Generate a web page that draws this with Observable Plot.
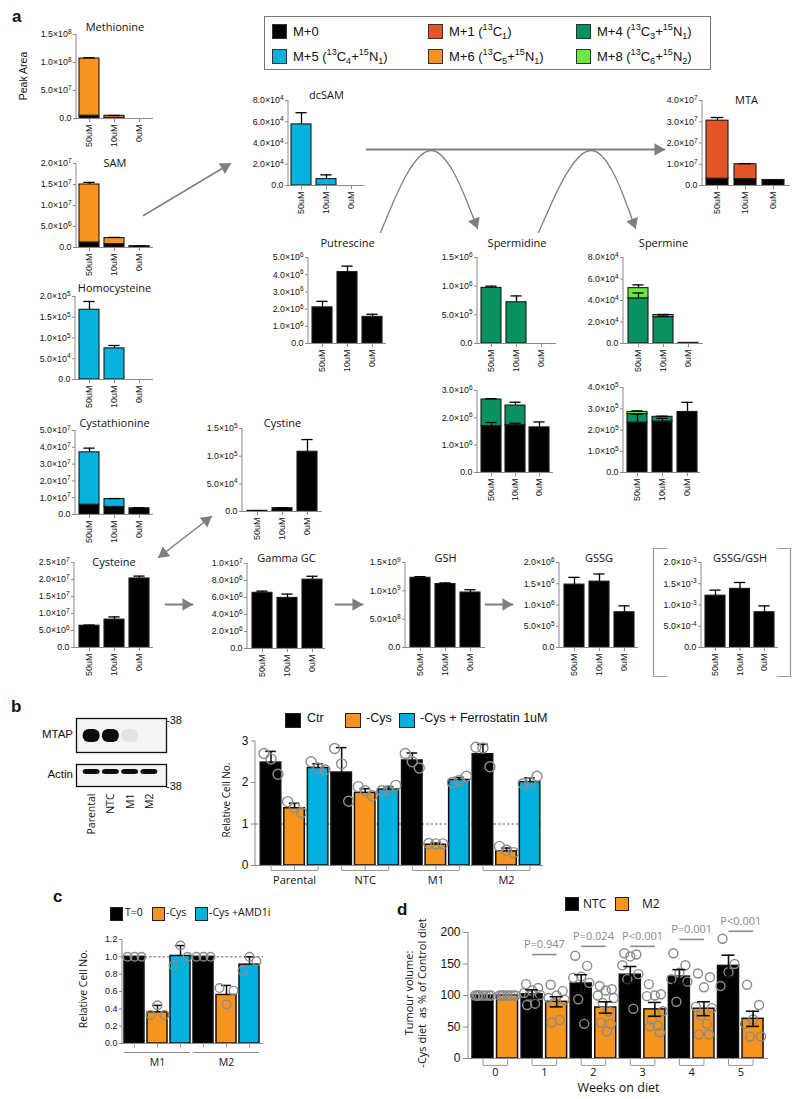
<!DOCTYPE html>
<html><head><meta charset="utf-8">
<script src="https://cdn.jsdelivr.net/npm/d3@7"></script>
<script src="https://cdn.jsdelivr.net/npm/@observablehq/plot@0.6"></script>
<style>
body{margin:0;background:#fff;}
#fig{position:relative;width:800px;height:1099px;overflow:hidden;background:#fff;font-family:"Liberation Sans",Arial,sans-serif;color:#111;}
#fig svg{overflow:visible;}
sup,sub{font-size:70%;line-height:0;}
</style></head><body><div id="fig"></div>
<script>
// ---------------- DATA ----------------
const conds = ["50uM","10uM","0uM"];
const isoNames = ["M+0","M+1","M+4","M+5","M+6","M+8"];
const isoColors = ["#000000","#e4562a","#0a9160","#05b2dd","#f7941d","#6ee83e"];
const isoLegend = ["M+0","M+1 (<sup>13</sup>C<sub>1</sub>)","M+4 (<sup>13</sup>C<sub>3</sub>+<sup>15</sup>N<sub>1</sub>)",
  "M+5 (<sup>13</sup>C<sub>4</sub>+<sup>15</sup>N<sub>1</sub>)","M+6 (<sup>13</sup>C<sub>5</sub>+<sup>15</sup>N<sub>1</sub>)","M+8 (<sup>13</sup>C<sub>6</sub>+<sup>15</sup>N<sub>2</sub>)"];
const legendOrder = ["M+0","M+1","M+4","M+5","M+6","M+8"];

// each metabolite: isotopologue segments (bottom to top), value and SD per condition
const methionine = [{iso:"M+0", v:[5.0e6,1.2e6,0], sd:[0,0,0]}, {iso:"M+6", v:[1.02e8,3.6e6,0], sd:[1.5e6,0.6e6,0]}];
const sam = [{iso:"M+0", v:[1.2e6,0.8e6,0.25e6], sd:[0,0,0]}, {iso:"M+6", v:[1.38e7,1.45e6,0.05e6], sd:[0.5e6,0.15e6,0.02e6]}];
const homocysteine = [{iso:"M+5", v:[1.68e5,7.5e4,0], sd:[2.0e4,7e3,0]}];
const cystathionine = [{iso:"M+0", v:[5.8e6,4.5e6,3.7e6], sd:[0,0,0.3e6]}, {iso:"M+5", v:[3.12e7,4.7e6,0], sd:[2.5e6,0.3e6,0]}];
const cystine = [{iso:"M+0", v:[1.2e3,6.0e3,1.08e5], sd:[0.3e3,0.6e3,2.2e4]}];
const cysteine = [{iso:"M+0", v:[6.4e6,8.2e6,2.03e7], sd:[0.2e6,0.8e6,0.7e6]}];
const gammaGC = [{iso:"M+0", v:[6.55e6,5.95e6,8.1e6], sd:[0.2e6,0.45e6,0.4e6]}];
const gsh = [{iso:"M+0", v:[1.23e9,1.12e9,0.97e9], sd:[0.02e9,0.02e9,0.05e9]}];
const gssg = [{iso:"M+0", v:[1.48e6,1.55e6,0.83e6], sd:[0.17e6,0.18e6,0.15e6]}];
const gssgGsh = [{iso:"M+0", v:[1.22e-3,1.38e-3,0.83e-3], sd:[0.13e-3,0.15e-3,0.15e-3]}];
const dcsam = [{iso:"M+5", v:[5.75e4,6.0e3,0], sd:[1.1e4,4.0e3,0]}];
const mta = [{iso:"M+0", v:[3.2e6,3.0e6,2.6e6], sd:[0,0,0]}, {iso:"M+1", v:[2.73e7,7.0e6,0], sd:[1.5e6,0.3e6,0]}];
const putrescine = [{iso:"M+0", v:[2.1e6,4.15e6,1.55e6], sd:[0.35e6,0.35e6,0.15e6]}];
const spermidineTop = [{iso:"M+4", v:[9.7e5,7.2e5,0], sd:[3e4,1.1e5,0]}];
const spermidineAll = [{iso:"M+0", v:[1.7e6,1.73e6,1.65e6], sd:[0.13e6,0.07e6,0.2e6]}, {iso:"M+4", v:[0.97e6,0.72e6,0], sd:[0.03e6,0.12e6,0]}];
const spermineTop = [{iso:"M+4", v:[4.2e4,2.45e4,0.06e4], sd:[0.5e4,0.1e4,0]}, {iso:"M+8", v:[0.95e4,0.2e4,0], sd:[0.3e4,0.05e4,0]}];
const spermineAll = [{iso:"M+0", v:[2.35e5,2.4e5,2.85e5], sd:[0.4e5,0.15e5,0.45e5]}, {iso:"M+4", v:[0.4e5,0.22e5,0], sd:[0,0.03e5,0]}, {iso:"M+8", v:[0.1e5,0,0], sd:[0.05e5,0,0]}];

// panel b
const lanes = ["Parental","NTC","M1","M2"];
const mtapBand = [1, 1, 0.07, 0];
const actinBand = [1, 1, 1, 1];
const groupsB = ["Parental","NTC","M1","M2"];
const treatB = ["Ctr","-Cys","-Cys + Ferrostatin 1uM"];
const colorsB = ["#000000","#f7941d","#00b0de"];
const bCtrMean = [2.48,2.24,2.53,2.68], bCtrSD = [0.27,0.60,0.18,0.24];
const bCysMean = [1.38,1.75,0.50,0.34], bCysSD = [0.12,0.10,0.04,0.08];
const bFerMean = [2.35,1.83,2.06,2.01], bFerSD = [0.10,0.07,0.06,0.10];
const bCtrDots = [[2.70,2.57,2.20],[2.82,2.45,1.55],[2.70,2.50,2.35],[2.85,2.83,2.38]];
const bCysDots = [[1.54,1.40,1.27],[1.90,1.80,1.68],[0.53,0.52,0.52],[0.46,0.37,0.31]];
const bFerDots = [[2.50,2.35,2.30],[1.80,1.80,1.93],[2.00,2.05,2.15],[1.97,2.00,2.15]];

// panel c
const groupsC = ["M1","M2"];
const treatC = ["T=0","-Cys","-Cys +AMD1i"];
const cT0Mean = [1.0,1.0], cT0SD = [0,0];
const cCysMean = [0.36,0.56], cCysSD = [0.08,0.11];
const cAmdMean = [1.01,0.91], cAmdSD = [0.12,0.09];
const cT0Dots = [[1,1,1],[1,1,1]];
const cCysDots = [[0.33,0.44,0.33],[0.64,0.45,0.61]];
const cAmdDots = [[0.90,1.13,1.00],[0.84,1.00,0.95]];

// panel d
const weeks = ["0","1","2","3","4","5"];
const groupsD = ["NTC","M2"];
const ntcMean = [100,102,119,133,130,147], ntcSE = [0,7,14,13,11,17];
const m2Mean = [100,90,81,78,79,63], m2SE = [0,8,9,11,11,12];
const ntcDots = [[100,100,100,100,100,100,100,100],[118,112,108,104,101,100,87,85],[163,147,130,128,120,94,55],
  [167,165,162,148,134,126,79],[167,148,136,126,122,90],[190,150,137,115]];
const m2Dots = [[100,100,100,100,100,100,100,100],[117,107,100,96,93,88,61,57],[115,110,108,100,96,88,75,57,55,43],
  [118,102,100,99,75,62,52,51,41],[135,129,113,82,80,68,55,38,38],[117,85,62,55,35,35]];
const pLabels = ["P=0.947","P=0.024","P<0.001","P=0.001","P<0.001"];
const pLineY = [165,178,178,189,202];

// ---------------- LAYOUT ----------------
const aLayout = [
 {d:methionine, title:"Methionine", ax:76, end:153, yTop:34, y0:118, c0:89, step:25, bw:20, max:1.5e8, tick:5e7, titleY:27},
 {d:sam, title:"SAM", ax:76, end:153, yTop:163, y0:247, c0:89, step:25, bw:20, max:2e7, tick:5e6, titleY:163},
 {d:homocysteine, title:"Homocysteine", ax:75, end:153, yTop:296, y0:379, c0:89, step:25, bw:20, max:2e5, tick:5e4, titleY:288},
 {d:cystathionine, title:"Cystathionine", ax:75, end:153, yTop:430, y0:514, c0:89, step:25, bw:20, max:5e7, tick:1e7, titleY:423},
 {d:cysteine, title:"Cysteine", ax:74, end:153, yTop:562, y0:647, c0:89, step:25, bw:20, max:2.5e7, tick:5e6, titleY:562},
 {d:cystine, title:"Cystine", ax:242, end:322, yTop:428, y0:511, c0:257, step:25, bw:20, max:1.5e5, tick:5e4, titleY:423},
 {d:gammaGC, title:"Gamma GC", ax:247, end:325, yTop:563, y0:648, c0:262, step:25, bw:20, max:1e7, tick:2e6, titleY:558},
 {d:gsh, title:"GSH", ax:405, end:485, yTop:562, y0:647, c0:420, step:25, bw:20, max:1.5e9, tick:5e8, titleY:558},
 {d:gssg, title:"GSSG", ax:559, end:638, yTop:562, y0:647, c0:574, step:25, bw:20, max:2e6, tick:5e5, titleY:558},
 {d:gssgGsh, title:"GSSG/GSH", ax:701, end:778, yTop:562, y0:647, c0:715, step:24.5, bw:20, max:2e-3, tick:5e-4, titleY:558},
 {d:dcsam, title:"dcSAM", ax:288, end:364, yTop:100, y0:185, c0:301, step:25, bw:20, max:8e4, tick:2e4, titleY:95},
 {d:mta, title:"MTA", ax:702, end:790, yTop:100, y0:185, c0:717, step:28, bw:22, max:4e7, tick:1e7, titleY:100},
 {d:putrescine, title:"Putrescine", ax:308, end:386, yTop:257, y0:343, c0:322, step:25, bw:20, max:5e6, tick:1e6, titleY:243},
 {d:spermidineTop, title:"Spermidine", ax:477, end:556, yTop:257, y0:343, c0:491, step:25, bw:20, max:1.5e6, tick:5e5, titleY:243},
 {d:spermidineAll, title:"", ax:477, end:553, yTop:390, y0:472, c0:491, step:24, bw:20, max:3e6, tick:1e6, titleY:390},
 {d:spermineTop, title:"Spermine", ax:623, end:703, yTop:257, y0:343, c0:638, step:25, bw:20, max:8e4, tick:2e4, titleY:243},
 {d:spermineAll, title:"", ax:623, end:700, yTop:387, y0:472, c0:637, step:25, bw:20, max:4e5, tick:1e5, titleY:387}
];
const arrowLines = [
 {id:"sam-dcsam", pts:[[143,215],[230,163]], curve:"linear", w:1.5},
 {id:"dcsam-mta", pts:[[366,149],[664,149]], curve:"linear", w:1.8},
 {id:"arc1", pts:[[380,232],[431,110],[477,228]], curve:"basis", w:1.3},
 {id:"arc2", pts:[[538,232],[592,110],[635,228]], curve:"basis", w:1.3},
 {id:"cys", pts:[[158,557],[211,516]], curve:"linear", w:1.5, both:true},
 {id:"h1", pts:[[165,604],[192,604]], curve:"linear", w:2},
 {id:"h2", pts:[[335,604],[362,604]], curve:"linear", w:2},
 {id:"h3", pts:[[485,604],[512,604]], curve:"linear", w:2}
];
const bracketLines = [
 {id:"bl", pts:[[666,548],[653,548],[653,676],[666,676]]},
 {id:"br", pts:[[777,548],[790,548],[790,676],[777,676]]}
];

// ---------------- HELPERS ----------------
const fig = document.getElementById("fig");
const AX = "#8a8a8a";
const SVGNS = "http://www.w3.org/2000/svg";
function put(node, x, y) {
  const d = document.createElement("div");
  d.style.cssText = `position:absolute;left:${x}px;top:${y}px;`;
  d.appendChild(node); fig.appendChild(d); return d;
}
function label(x, y, html, css = "", anchor = "start", rot = false) {
  const d = document.createElement("div");
  d.innerHTML = html;
  const tx = anchor === "middle" ? "-50%" : anchor === "end" ? "-100%" : "0";
  d.style.cssText = `position:absolute;left:${x}px;top:${y}px;white-space:nowrap;line-height:1.15;transform:translate(${tx},-50%)${rot ? " rotate(-90deg)" : ""};${css}`;
  fig.appendChild(d); return d;
}
function sci(v) {
  if (Math.abs(v) < 1e-15) return "0.0";
  const e = Math.floor(Math.log10(v) + 1e-9);
  const m = v / Math.pow(10, e);
  return m.toFixed(1) + "×10^" + e;
}
// turn "1.5×10^8" tick texts into real superscripts
function superscriptTicks(svg) {
  svg.querySelectorAll("text").forEach(t => {
    const m = (t.textContent || "").match(/^(.*×10)\^(-?\d+)$/);
    if (!m) return;
    t.textContent = "";
    const a = document.createElementNS(SVGNS, "tspan"); a.textContent = m[1];
    const b = document.createElementNS(SVGNS, "tspan"); b.textContent = m[2];
    b.setAttribute("dy", "-0.5em"); b.setAttribute("font-size", "6.5px");
    t.appendChild(a); t.appendChild(b);
  });
}
const yLine = (index, scales, values, dims) => {
  const l = document.createElementNS(SVGNS, "line");
  l.setAttribute("x1", dims.marginLeft); l.setAttribute("x2", dims.marginLeft);
  l.setAttribute("y1", dims.marginTop); l.setAttribute("y2", dims.height - dims.marginBottom);
  l.setAttribute("stroke", AX); l.setAttribute("stroke-width", 1);
  return l;
};
function bandX(domain, c0, step, bw, L, noAxis) {
  const n = domain.length, pi = 1 - bw / step;
  const s = {type:"band", domain, range:[c0 - step / 2 - L, c0 + (n - 0.5) * step - L], paddingInner:pi, paddingOuter:pi / 2, round:false};
  if (noAxis) s.axis = null;
  return s;
}

// ---------------- PANEL a ----------------
function metabPanel(p) {
  const L = p.ax - 58, T = p.yTop - 24;
  const W = p.end - L + 4, H = p.y0 - T + 42;
  const rows = [], errs = [];
  conds.forEach((c, j) => {
    let cum = 0;
    p.d.forEach(s => {
      const v = s.v[j];
      if (v > 0) rows.push({cond:c, iso:s.iso, value:v});
      cum += v;
      if (s.sd[j] > 0) errs.push({cond:c, lo:cum, hi:cum + s.sd[j]});
    });
  });
  const ticks = d3.range(0, p.max + p.tick / 2, p.tick);
  const chart = Plot.plot({
    width:W, height:H,
    marginLeft:p.ax - L, marginRight:W - (p.end - L), marginTop:p.yTop - T, marginBottom:H - (p.y0 - T),
    style:{fontFamily:"Liberation Sans, Arial, sans-serif", fontSize:"9px", color:"#111", background:"transparent", overflow:"visible"},
    x:bandX(conds, p.c0, p.step, p.bw, L),
    y:{domain:[0, p.max], range:[p.y0 - T, p.yTop - T]},
    color:{domain:isoNames, range:isoColors},
    marks:[
      Plot.barY(rows, {x:"cond", y:"value", fill:"iso", stroke:"#1a1a1a", strokeWidth:1.1}),
      Plot.ruleX(errs, {x:"cond", y1:"lo", y2:"hi", stroke:"#000", strokeWidth:1.3}),
      Plot.tickY(errs, {x:"cond", y:"hi", stroke:"#000", strokeWidth:1.3, insetLeft:p.bw * 0.22, insetRight:p.bw * 0.22}),
      Plot.ruleY([0], {stroke:AX}),
      yLine,
      Plot.axisY({ticks, tickFormat:sci, tickSize:3, tickPadding:2, fontSize:8.8, stroke:AX, label:null}),
      Plot.axisX({tickRotate:-90, tickSize:4, tickPadding:2, fontSize:9, stroke:AX, label:null}),
      Plot.text(p.title ? [p.title] : [], {text:d => d, frameAnchor:"top", lineAnchor:"middle", dy:p.titleY - p.yTop, fontSize:11, fontFamily:"Open Sans, sans-serif", fill:"#111"})
    ]
  });
  superscriptTicks(chart);
  put(chart, L, T);
}
aLayout.forEach(metabPanel);

label(12, 17, "a", "font-weight:bold;font-size:17px;");
label(23, 76, "Peak Area", "font-size:10.5px;", "middle", true);

// legend for a
(function () {
  const box = document.createElement("div");
  box.style.cssText = "position:absolute;left:264px;top:16px;width:447px;height:54px;border:1px solid #777;box-sizing:border-box;";
  fig.appendChild(box);
  const colX = [272, 428, 576], rowY = [32, 57];
  legendOrder.forEach((k, i) => {
    const x = colX[i % 3], y = rowY[Math.floor(i / 3)];
    const sw = document.createElement("div");
    sw.style.cssText = `position:absolute;left:${x}px;top:${y - 8}px;width:15px;height:15px;box-sizing:border-box;border:1px solid #333;background:${isoColors[isoNames.indexOf(k)]};`;
    fig.appendChild(sw);
    label(x + 21, y, isoLegend[isoNames.indexOf(k)], "font-size:13px;");
  });
})();

// arrows overlay
(function () {
  const flat = [], heads = [], brk = [];
  const headAt = (tip, from) => {
    const dx = tip[0] - from[0], dy = tip[1] - from[1], n = Math.hypot(dx, dy);
    const ux = dx / n, uy = dy / n;
    heads.push({x:tip[0] - ux * 6.5, y:tip[1] - uy * 6.5, a:Math.atan2(ux, -uy) * 180 / Math.PI});
  };
  arrowLines.forEach(a => {
    a.pts.forEach(p => flat.push({id:a.id, x:p[0], y:p[1]}));
    const n = a.pts.length;
    headAt(a.pts[n - 1], a.pts[n - 2]);
    if (a.both) headAt(a.pts[0], a.pts[1]);
  });
  bracketLines.forEach(b => b.pts.forEach(p => brk.push({id:b.id, x:p[0], y:p[1]})));
  const marks = [];
  arrowLines.forEach(a => marks.push(Plot.line(flat.filter(d => d.id === a.id), {x:"x", y:"y", curve:a.curve, stroke:"#7f7f7f", strokeWidth:a.w})));
  marks.push(Plot.line(brk, {x:"x", y:"y", z:"id", stroke:"#999", strokeWidth:1.2}));
  marks.push(Plot.dot(heads, {x:"x", y:"y", rotate:"a", symbol:"triangle", r:4.6, fill:"#7f7f7f", stroke:"none"}));
  const ov = Plot.plot({width:800, height:700, margin:0,
    x:{domain:[0, 800], range:[0, 800], axis:null}, y:{domain:[0, 700], range:[0, 700], axis:null},
    style:{background:"transparent", overflow:"visible"}, marks});
  const d = put(ov, 0, 0); d.style.pointerEvents = "none";
})();

// ---------------- PANEL b ----------------
label(11, 707, "b", "font-weight:bold;font-size:17px;");
(function () {
  const mk = (band) => lanes.map((l, i) => ({lane:l, v:band[i]})).filter(d => d.v > 0);
  const xs = {type:"band", domain:lanes, range:[5.5, 82.5], paddingInner:0.12, paddingOuter:0.06, round:false};
  const mtap = Plot.plot({width:90, height:34, margin:0, x:{...xs, axis:null}, y:{type:"band", domain:["b"], range:[9, 25], axis:null},
    opacity:{domain:[0, 1]},
    style:{background:"transparent", overflow:"visible"},
    marks:[Plot.frame({fill:"#f4f4f4", stroke:"#111", strokeWidth:1.3}),
      Plot.cell(mk(mtapBand), {x:"lane", y:() => "b", fill:"#0c0c0c", fillOpacity:"v", rx:6, inset:0})]});
  put(mtap, 76, 718);
  const actin = Plot.plot({width:90, height:80, marginTop:0, marginBottom:58, marginLeft:0, marginRight:0,
    x:xs, y:{type:"band", domain:["b"], range:[4, 11], axis:null}, opacity:{domain:[0, 1]},
    style:{background:"transparent", overflow:"visible", fontFamily:"Open Sans, sans-serif"},
    marks:[Plot.frame({fill:"#f4f4f4", stroke:"#111", strokeWidth:1.3}),
      Plot.cell(mk(actinBand), {x:"lane", y:() => "b", fill:"#0c0c0c", fillOpacity:"v", rx:3.5, inset:0}),
      Plot.axisX({tickRotate:-90, tickSize:0, tickPadding:7, fontSize:10.5, label:null})]});
  put(actin, 76, 764);
  const nar = "font-family:'Liberation Sans Narrow','Liberation Sans',Arial,sans-serif;";
  label(73, 735, "MTAP", nar + "font-size:11.5px;", "end");
  label(73, 775, "Actin", nar + "font-size:11.5px;", "end");
  label(166, 720, "-38", nar + "font-size:11px;");
  label(166, 786, "-38", nar + "font-size:11px;");

  // legend
  const lx = [[285, 307], [345, 366], [399, 420]];
  treatB.forEach((t, i) => {
    const sw = document.createElement("div");
    sw.style.cssText = `position:absolute;left:${lx[i][0]}px;top:713px;width:16px;height:15px;box-sizing:border-box;border:1.5px solid #222;background:${colorsB[i]};`;
    fig.appendChild(sw);
    label(lx[i][1], 718, t, nar + "font-size:12.5px;");
  });
  label(227, 800, "Relative Cell No.", "font-family:'Open Sans',sans-serif;font-size:10px;", "middle", true);

  const means = [bCtrMean, bCysMean, bFerMean], sds = [bCtrSD, bCysSD, bFerSD], dots = [bCtrDots, bCysDots, bFerDots];
  const rows = [], drows = [];
  groupsB.forEach((g, gi) => treatB.forEach((t, ti) => {
    const key = g + "|" + t;
    rows.push({key, t, mean:means[ti][gi], sd:sds[ti][gi]});
    dots[ti][gi].forEach((v, k) => drows.push({key, v, slot:k}));
  }));
  const keys = rows.map(r => r.key);
  const slots = [-7, 0, 7];
  const L = 195, T = 700, W = 360, H = 200;
  const ax = 255, end = 543, y0 = 865, yTop = 740.5;
  const chart = Plot.plot({
    width:W, height:H, marginLeft:ax - L, marginRight:W - (end - L), marginTop:yTop - T, marginBottom:H - (y0 - T),
    style:{fontFamily:"Liberation Sans, Arial, sans-serif", fontSize:"12px", color:"#111", background:"transparent", overflow:"visible"},
    x:bandX(keys, 270.5, 23.55, 20.5, L, true),
    y:{domain:[0, 3], range:[y0 - T, yTop - T]},
    color:{domain:treatB, range:colorsB},
    marks:[
      Plot.ruleY([1], {stroke:"#666", strokeDasharray:"2.5,2", strokeWidth:1}),
      Plot.barY(rows, {x:"key", y:"mean", fill:"t", stroke:"#111", strokeWidth:1.5}),
      Plot.ruleX(rows, {x:"key", y1:"mean", y2:d => d.mean + d.sd, stroke:"#111", strokeWidth:1.6}),
      Plot.tickY(rows, {x:"key", y:d => d.mean + d.sd, stroke:"#111", strokeWidth:1.6, insetLeft:5, insetRight:5}),
      ...slots.map((dx, s) => Plot.dot(drows.filter(d => d.slot === s), {x:"key", y:"v", dx, r:5, stroke:"#8d8d8d", strokeWidth:1.4, fill:"none"})),
      Plot.ruleY([0], {stroke:AX}),
      yLine,
      Plot.axisY({ticks:[0, 1, 2, 3], tickFormat:d => String(d), tickSize:4, tickPadding:3, fontSize:12, stroke:AX, label:null}),
      Plot.ruleX(rows, {x:"key", y1:0, y2:-0.12, stroke:"#999"}),
      Plot.link(groupsB, {x1:g => g + "|" + treatB[0], x2:g => g + "|" + treatB[2], y1:-0.12, y2:-0.12, stroke:"#999"}),
      Plot.text(groupsB, {x:g => g + "|" + treatB[1], y:0, dy:15, text:d => d, fontSize:11, fontFamily:"Open Sans, sans-serif"})
    ]
  });
  put(chart, L, T);
})();

// ---------------- PANEL c ----------------
label(53, 897, "c", "font-weight:bold;font-size:17px;");
(function () {
  const colorsC = ["#000000", "#f7941d", "#00b0de"];
  const lx = [[110, 125], [152, 166], [195, 209]];
  treatC.forEach((t, i) => {
    const sw = document.createElement("div");
    sw.style.cssText = `position:absolute;left:${lx[i][0]}px;top:907px;width:13px;height:14px;box-sizing:border-box;border:1.5px solid #222;background:${colorsC[i]};`;
    fig.appendChild(sw);
    label(lx[i][1], 912, t, "font-family:'Open Sans',sans-serif;font-size:10.5px;");
  });
  label(83, 989, "Relative Cell No.", "font-family:'Open Sans',sans-serif;font-size:10.5px;", "middle", true);
  const means = [cT0Mean, cCysMean, cAmdMean], sds = [cT0SD, cCysSD, cAmdSD], dots = [cT0Dots, cCysDots, cAmdDots];
  const rows = [], drows = [];
  groupsC.forEach((g, gi) => treatC.forEach((t, ti) => {
    const key = g + "|" + t;
    rows.push({key, t, mean:means[ti][gi], sd:sds[ti][gi]});
    dots[ti][gi].forEach((v, k) => drows.push({key, v, slot:k}));
  }));
  const keys = rows.map(r => r.key);
  const slots = [-7, 0, 7];
  const L = 60, T = 900, W = 210, H = 180;
  const ax = 122, end = 263, y0 = 1043, yTop = 939;
  const chart = Plot.plot({
    width:W, height:H, marginLeft:ax - L, marginRight:W - (end - L), marginTop:yTop - T, marginBottom:H - (y0 - T),
    style:{fontFamily:"Liberation Sans, Arial, sans-serif", fontSize:"9px", color:"#111", background:"transparent", overflow:"visible"},
    x:bandX(keys, 134, 23, 20, L, true),
    y:{domain:[0, 1.2], range:[y0 - T, yTop - T]},
    color:{domain:treatC, range:colorsC},
    marks:[
      Plot.ruleY([1], {stroke:"#666", strokeDasharray:"2.5,2", strokeWidth:1}),
      Plot.barY(rows, {x:"key", y:"mean", fill:"t", stroke:"#111", strokeWidth:1.5}),
      Plot.ruleX(rows.filter(r => r.sd > 0), {x:"key", y1:"mean", y2:d => d.mean + d.sd, stroke:"#111", strokeWidth:1.5}),
      Plot.tickY(rows.filter(r => r.sd > 0), {x:"key", y:d => d.mean + d.sd, stroke:"#111", strokeWidth:1.5, insetLeft:5, insetRight:5}),
      ...slots.map((dx, s) => Plot.dot(drows.filter(d => d.slot === s), {x:"key", y:"v", dx, r:4.3, stroke:"#8d8d8d", strokeWidth:1.4, fill:"none"})),
      Plot.ruleY([0], {stroke:AX}),
      yLine,
      Plot.axisY({ticks:d3.range(0, 1.3, 0.2), tickFormat:d3.format(".1f"), tickSize:3, tickPadding:2, fontSize:9, stroke:AX, label:null}),
      Plot.ruleX(rows, {x:"key", y1:0, y2:-0.05, stroke:"#999"}),
      Plot.ruleY(groupsC, {x1:g => g + "|" + treatC[0], x2:g => g + "|" + treatC[2], y:-0.104, stroke:"#888", strokeWidth:1.2}),
      Plot.text(groupsC, {x:g => g + "|" + treatC[1], y:0, dy:19, text:d => d, fontSize:10.5, fontFamily:"Open Sans, sans-serif"})
    ]
  });
  put(chart, L, T);
})();

// ---------------- PANEL d ----------------
label(397, 910, "d", "font-weight:bold;font-size:17px;");
(function () {
  const colorsD = ["#000000", "#f7941d"];
  const lx = [[565, 583], [615, 642]];
  groupsD.forEach((g, i) => {
    const sw = document.createElement("div");
    sw.style.cssText = `position:absolute;left:${lx[i][0]}px;top:897px;width:14px;height:14px;box-sizing:border-box;border:1.2px solid #222;background:${colorsD[i]};`;
    fig.appendChild(sw);
    label(lx[i][1], 904, g, "font-family:'Open Sans',sans-serif;font-size:12px;");
  });
  label(415, 993, "Tumour volume:<br>-Cys diet&nbsp; as % of Control diet", "font-family:'Open Sans',sans-serif;font-size:11px;text-align:center;line-height:13px;", "middle", true);
  const means = [ntcMean, m2Mean], ses = [ntcSE, m2SE], dots = [ntcDots, m2Dots];
  const rows = [], drows = [];
  weeks.forEach((w, wi) => groupsD.forEach((g, gi) => {
    const key = w + "|" + g;
    rows.push({key, g, mean:means[gi][wi], se:ses[gi][wi]});
    dots[gi][wi].forEach((v, k) => drows.push({key, v, slot:k}));
  }));
  const keys = rows.map(r => r.key);
  const slots = [-6, 6, 0, -8, 8, -3, 3, -5, 5, 1];
  const pv = pLabels.map((t, i) => ({w:weeks[i + 1], t, y:pLineY[i]}));
  const L = 430, T = 900, W = 350, H = 199;
  const ax = 468, end = 768, y0 = 1058, yTop = 932;
  const step = 24.55;
  const chart = Plot.plot({
    width:W, height:H, marginLeft:ax - L, marginRight:W - (end - L), marginTop:yTop - T, marginBottom:H - (y0 - T),
    style:{fontFamily:"Liberation Sans, Arial, sans-serif", fontSize:"12px", color:"#111", background:"transparent", overflow:"visible"},
    x:bandX(keys, 482.5, step, 21, L, true),
    y:{domain:[0, 200], range:[y0 - T, yTop - T]},
    color:{domain:groupsD, range:colorsD},
    marks:[
      Plot.barY(rows, {x:"key", y:"mean", fill:"g", stroke:"#111", strokeWidth:1.5}),
      ...slots.map((dx, s) => Plot.dot(drows.filter(d => d.slot === s), {x:"key", y:"v", dx, r:4.5, stroke:"#8a8a8a", strokeWidth:1.4, fill:"none"})),
      Plot.ruleX(rows.filter(r => r.se > 0), {x:"key", y1:d => d.mean - d.se, y2:d => d.mean + d.se, stroke:"#111", strokeWidth:1.6}),
      Plot.tickY(rows.filter(r => r.se > 0), {x:"key", y:d => d.mean + d.se, stroke:"#111", strokeWidth:1.6, insetLeft:4, insetRight:4}),
      Plot.tickY(rows.filter(r => r.se > 0), {x:"key", y:d => d.mean - d.se, stroke:"#111", strokeWidth:1.6, insetLeft:4, insetRight:4}),
      Plot.ruleY([0], {stroke:AX}),
      yLine,
      Plot.axisY({ticks:[0, 50, 100, 150, 200], tickSize:5, tickPadding:3, fontSize:12, stroke:AX, label:null}),
      Plot.ruleX(rows, {x:"key", y1:0, y2:-11, stroke:"#999"}),
      Plot.link(weeks, {x1:w => w + "|NTC", x2:w => w + "|M2", y1:-11, y2:-11, stroke:"#999"}),
      Plot.text(weeks, {x:w => w + "|NTC", y:0, dx:step / 2, dy:14, text:d => d, fontSize:11, fontFamily:"Open Sans, sans-serif"}),
      Plot.link(pv, {x1:d => d.w + "|NTC", x2:d => d.w + "|M2", y1:"y", y2:"y", stroke:"#8a8a8a", strokeWidth:1.6}),
      Plot.text(pv, {x:d => d.w + "|NTC", y:"y", dx:step / 2, dy:-10, text:"t", fontSize:11, fontFamily:"Open Sans, sans-serif", fill:"#8a8a8a"}),
      Plot.text(["Weeks on diet"], {text:d => d, frameAnchor:"bottom", lineAnchor:"middle", dy:29, fontSize:12.5, fontFamily:"Open Sans, sans-serif"})
    ]
  });
  put(chart, L, T);
})();
</script></body></html>
